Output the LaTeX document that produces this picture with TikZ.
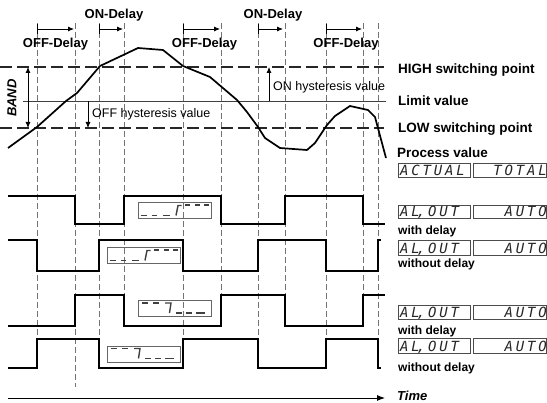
\documentclass[tikz,border=0pt]{standalone}
\usepackage{fontspec}
\setmainfont{Liberation Sans}
\newfontfamily\lcdfont[LetterSpace=20]{DejaVu Sans Mono}
\usetikzlibrary{arrows.meta}
\begin{document}
\begin{tikzpicture}[x=1pt,y=-1pt,
  vline/.style={draw=black!55, line width=0.7pt, dash pattern=on 6pt off 3pt},
  refdash/.style={draw=black!85, line width=1.3pt, dash pattern=on 12pt off 5pt},
  sig/.style={line width=1.8pt, line join=miter},
  dlbl/.style={font=\fontsize{13}{15}\selectfont\bfseries, inner sep=0, anchor=base},
  rlbl/.style={font=\fontsize{13.5}{15}\selectfont\bfseries, inner sep=0, anchor=base west},
  slbl/.style={font=\fontsize{12}{14}\selectfont\bfseries, inner sep=0, anchor=base west},
  hlbl/.style={font=\fontsize{12.5}{14}\selectfont, inner sep=0, anchor=base west},
  delayarrow/.style={line width=0.8pt, {Bar[width=10pt]}-{Latex[length=6pt,width=5pt]}},
  hysarrow/.style={line width=0.8pt, -{Latex[length=6pt,width=5pt]}},
  lcdbox/.style={draw=black!70, line width=0.8pt},
  lcdtext/.style={font=\lcdfont\itshape\fontsize{14}{15}\selectfont, text=black!85, inner sep=0},
  dispbox/.style={draw=black!60, line width=0.7pt},
  dispseg/.style={draw=black!75, line width=1.4pt},
  risedisp/.pic={
    \draw[dispbox] (0,0) rectangle (73,16);
    \draw[dispseg] (2.7,13.5)--(8.7,13.5) (13.7,13.5)--(19.3,13.5) (25.3,13.5)--(32,13.5);
    \draw[dispseg] (38,13.5)--(40,3.5)--(43.5,3.5);
    \draw[dispseg] (47,3)--(52,3) (57,3)--(62,3) (66,3)--(71,3);
  },
  falldisp/.pic={
    \draw[dispbox] (0,0) rectangle (73,16);
    \draw[dispseg] (4,2.5)--(10,2.5) (15,2.5)--(21,2.5);
    \draw[dispseg] (27,2.5)--(33,2.5)--(31.5,12.5);
    \draw[dispseg] (38,12.5)--(43.5,12.5) (48,12.5)--(53.5,12.5) (58,12.5)--(67,12.5);
  }
]
\useasboundingbox (0,0) rectangle (547,403);

% vertical dashed time marks
\foreach \x in {37,99,183,258,326,378} \draw[vline] (\x,23) -- (\x,368);
\foreach \x in {124,221,285,363} \draw[vline] (\x,23) -- (\x,326);
\draw[vline] (75,23) -- (75,387);

% delay arrows
\draw[delayarrow] (37,29) -- (74,29);
\draw[delayarrow] (99,29) -- (123,29);
\draw[delayarrow] (183,29) -- (220,29);
\draw[delayarrow] (258,29) -- (283,29);
\draw[delayarrow] (326,29) -- (362,29);

% delay labels
\node[dlbl] (on1) at (114,19) {ON-Delay};
\node[dlbl] (on2) at (273,19) {ON-Delay};
\node[dlbl] (off1) at (55.5,48) {OFF-Delay};
\node[dlbl] (off2) at (204.5,48) {OFF-Delay};
\node[dlbl] (off3) at (346,48) {OFF-Delay};

% reference lines
\draw[refdash] (0,67) -- (384,67);
\draw[refdash] (0,128) -- (384,128);
\draw[draw=black!75, line width=0.9pt] (23,101) -- (386,101);

\node[rlbl] (high) at (398,74) {HIGH switching point};
\node[rlbl] (limit) at (398,105.5) {Limit value};
\node[rlbl] (low) at (398,133) {LOW switching point};
\node[rlbl] (proc) at (397,158) {Process value};

% BAND
\coordinate (bt) at (28,67);
\coordinate (bb) at (28,128);
\draw[line width=0.8pt, {Latex[length=6pt,width=5pt]}-{Latex[length=6pt,width=5pt]}] (bt) -- (bb);
\node[font=\fontsize{13}{15}\selectfont\bfseries\itshape, rotate=90, inner sep=0] (band) at (12,98) {BAND};

% hysteresis
\coordinate (offa) at (88,101);
\coordinate (offb) at (88,128);
\draw[hysarrow] (offa) -- (offb);
\node[hlbl] (offh) at (92,117.5) {OFF hysteresis value};
\coordinate (ona) at (269,101);
\coordinate (onb) at (269,67);
\draw[hysarrow] (ona) -- (onb);
\node[hlbl] (onh) at (273,90.5) {ON hysteresis value};

% process value curve
\draw[line width=1.7pt, line join=round] (8,148) -- (37,127) -- (66,101) -- (77,93) -- (100,66)
  -- (138,48) -- (163,50) -- (183,66) -- (210,77) -- (237,100) -- (247,112) -- (258,127)
  -- (265,138) -- (280,148) -- (307,150) -- (315,143) -- (327,125) -- (335,116)
  -- (350,106) -- (368,110) -- (375,117) -- (386,158);

% signals
\draw[sig] (8,196)--(75,196)--(75,224)--(124,224)--(124,196)--(221,196)--(221,224)--(285,224)--(285,196)--(363,196)--(363,224)--(385,224);
\draw[sig] (8,240)--(37,240)--(37,271)--(99,271)--(99,240)--(183,240)--(183,271)--(258,271)--(258,240)--(326,240)--(326,271)--(378,271)--(378,240)--(381,240);
\draw[sig] (8,326)--(75,326)--(75,295)--(124,295)--(124,326)--(221,326)--(221,295)--(285,295)--(285,326)--(363,326)--(363,295)--(385,295);
\draw[sig] (8,368)--(37,368)--(37,339)--(99,339)--(99,368)--(183,368)--(183,339)--(258,339)--(258,368)--(326,368)--(326,339)--(378,339)--(378,368)--(381,368);

% small displays
\pic at (138,202) {risedisp};
\pic at (107,247) {risedisp};
\pic at (138,300.5) {falldisp};
\pic at (107,346) {falldisp};

% right LCD boxes
\foreach \t/\b in {163/177,205/218,240/255,305/319,338/353} {
  \draw[lcdbox] (398,\t) rectangle (470,\b);
  \draw[lcdbox] (473,\t) rectangle (546.6,\b);
}
\node[lcdtext, anchor=base west] (act) at (400,175.5) {ACTUAL};
\node[lcdtext, anchor=base east] (tot) at (547,175.5) {TOTAL};
\foreach \b [count=\i] in {216.5,253.5,317.5,351.5} {
  \node[lcdtext, anchor=base west] (al\i) at (400,\b) {AL\kern-3pt,OUT};
  \node[lcdtext, anchor=base east] (au\i) at (547,\b) {AUTO};
}
\node[slbl] (wd1) at (398,234.5) {with delay};
\node[slbl] (wo1) at (398,267.5) {without delay};
\node[slbl] (wd2) at (398,334.5) {with delay};
\node[slbl] (wo2) at (398,371.5) {without delay};

% time axis
\coordinate (t0) at (8,398);
\coordinate (t1) at (385,398);
\draw[line width=0.9pt, -{Latex[length=8pt,width=6pt]}] (t0) -- (t1);
\node[font=\fontsize{13}{15}\selectfont\bfseries\itshape, inner sep=0, anchor=base west] (time) at (397,401) {Time};
\end{tikzpicture}
\end{document}
